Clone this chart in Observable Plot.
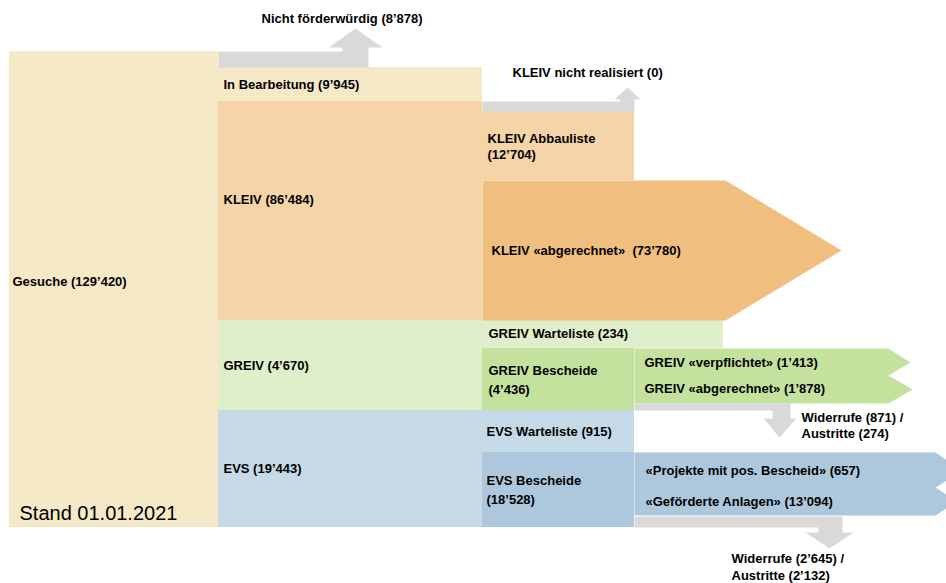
<!DOCTYPE html>
<html><head><meta charset="utf-8">
<script src="https://cdn.jsdelivr.net/npm/d3@7"></script>
<script src="https://cdn.jsdelivr.net/npm/@observablehq/plot@0.6"></script>
<style>html,body{margin:0;padding:0;overflow:hidden;background:#fff}</style>
</head><body><div id="chart"></div>
<script>
// ---- data ----
const nodeNames = ["Gesuche","In Bearbeitung","KLEIV","GREIV","EVS","Nicht förderwürdig","KLEIV nicht realisiert","KLEIV Abbauliste","KLEIV «abgerechnet»","GREIV Warteliste","GREIV Bescheide","GREIV «verpflichtet»","GREIV «abgerechnet»","Widerrufe","Austritte","EVS Warteliste","EVS Bescheide","«Projekte mit pos. Bescheid»","«Geförderte Anlagen»","Widerrufe","Austritte"];
const nodeValues = [129420,9945,86484,4670,19443,8878,0,12704,73780,234,4436,1413,1878,871,274,915,18528,657,13094,2645,2132];
const standLabel = "Stand 01.01.2021";

// ---- layout (diagram geometry, in diagram units) ----
const rectLayout = [
  {x1:9,   x2:218, y1:51,  y2:527, fill:"#f6e9c8"},
  {x1:218, x2:482, y1:67,  y2:101, fill:"#f6e9c8"},
  {x1:218, x2:482, y1:101, y2:320, fill:"#f5d4a8"},
  {x1:218, x2:482, y1:320, y2:410, fill:"#dfefca"},
  {x1:218, x2:482, y1:410, y2:527, fill:"#c5d9e7"},
  {x1:482, x2:634, y1:111, y2:180, fill:"#f5d4a8"},
  {x1:482, x2:723, y1:320, y2:348, fill:"#dfefca"},
  {x1:482, x2:634, y1:348, y2:410, fill:"#c4e29e"},
  {x1:482, x2:634, y1:410, y2:452, fill:"#c5d9e7"},
  {x1:482, x2:634, y1:452, y2:527, fill:"#adc8dd"}
];
const polyLayout = [
  {fill:"#d9d9d9", pts:[[218,51],[342,51],[342,47],[328,47],[355,28],[382,47],[368,47],[368,67],[218,67]]},
  {fill:"#d9d9d9", pts:[[482,101],[620,101],[620,99],[614,99],[627,87],[640,99],[634,99],[634,111],[482,111]]},
  {fill:"#f0be7f", pts:[[482,180],[725,180],[841,250],[725,320],[482,320]]},
  {fill:"#c4e29e", pts:[[634,348],[888,348],[910,362],[888,375],[912,389],[888,403],[634,403]]},
  {fill:"#d9d9d9", pts:[[634,403],[790,403],[790,418],[796,418],[779,437],[763,418],[772,418],[772,410],[634,410]]},
  {fill:"#adc8dd", pts:[[634,452],[935,452],[962,470],[935,487],[957,501],[935,515],[634,515]]},
  {fill:"#d9d9d9", pts:[[634,516],[842,516],[842,532],[853,532],[829,548],[805,532],[818,532],[818,527],[634,527]]}
];
const labelLayout = [
  {n:[0], x:12, y:281},
  {n:[1], x:223, y:84},
  {n:[2], x:223, y:199},
  {n:[3], x:223, y:365},
  {n:[4], x:223, y:468},
  {n:[5], x:261, y:18},
  {n:[6], x:512, y:72},
  {n:[7], x:487, y:146, split:true, lh:16},
  {n:[8], x:491, y:250, sep:"  "},
  {n:[9], x:488, y:333},
  {n:[10], x:488, y:379.5, split:true, lh:19},
  {n:[11], x:644, y:362},
  {n:[12], x:644, y:388},
  {n:[13,14], x:801, y:425, lh:16},
  {n:[15], x:486, y:431},
  {n:[16], x:486, y:489.5, split:true, lh:19},
  {n:[17], x:645, y:470},
  {n:[18], x:645, y:501},
  {n:[19,20], x:731, y:566.5, lh:17}
];

const fmt = d3.formatLocale({decimal:".", thousands:"’", grouping:[3], currency:["",""]}).format(",d");

// build text lines
const textLines = [];
for (const L of labelLayout) {
  let lines;
  if (L.n.length === 2) {
    lines = [`${nodeNames[L.n[0]]} (${fmt(nodeValues[L.n[0]])}) /`, `${nodeNames[L.n[1]]} (${fmt(nodeValues[L.n[1]])})`];
  } else if (L.split) {
    lines = [nodeNames[L.n[0]], `(${fmt(nodeValues[L.n[0]])})`];
  } else {
    lines = [`${nodeNames[L.n[0]]}${L.sep || " "}(${fmt(nodeValues[L.n[0]])})`];
  }
  const lh = L.lh || 16;
  lines.forEach((t, i) => textLines.push({text:t, x:L.x, y:L.y + (i - (lines.length - 1) / 2) * lh}));
}

const font = "'Liberation Sans', Arial, sans-serif";
const marks = [
  Plot.rect(rectLayout, {x1:"x1", x2:"x2", y1:"y1", y2:"y2", fill:"fill", clip:true}),
  ...polyLayout.map(p => Plot.line(p.pts, {x:d => d[0], y:d => d[1], fill:p.fill, stroke:"none", curve:"linear-closed", clip:true})),
  Plot.text(textLines, {x:"x", y:"y", text:"text", textAnchor:"start", fontWeight:"bold", fontSize:13, fontFamily:font, fill:"#000"}),
  Plot.text([standLabel], {x:19, y:513, text:d => d, textAnchor:"start", fontSize:20, fontFamily:font, fill:"#000"})
];

const chart = Plot.plot({
  width:946, height:583, margin:0,
  x:{domain:[0,946], range:[0,946], axis:null},
  y:{domain:[0,583], range:[0,583], axis:null},
  color:{type:"identity"},
  style:{fontFamily:font, background:"#fff"},
  marks
});
document.getElementById("chart").appendChild(chart);
</script>
</body></html>
